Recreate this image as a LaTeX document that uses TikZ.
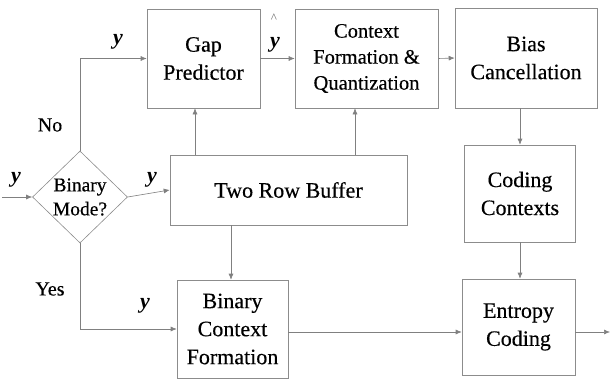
\documentclass[tikz,border=0pt]{standalone}
\usepackage{fontspec}
\setmainfont{Liberation Serif}
\newfontfamily\tnr[FakeBold=0.4]{Liberation Serif}
\usetikzlibrary{shapes.geometric,arrows.meta}
\begin{document}
\begin{tikzpicture}[x=1pt,y=-1pt,
  blk/.style={draw=black!45,line width=0.6pt,rectangle,inner sep=0pt,align=center,
     font=\tnr\fontsize{22}{28}\selectfont},
  conn/.style={draw=black!50,line width=0.6pt},
  arr/.style={conn,-{Latex[length=6pt,width=5pt]}},
  lab/.style={font=\fontsize{22}{24}\selectfont\itshape\bfseries},
  txt/.style={font=\tnr\fontsize{20}{24}\selectfont}]
\useasboundingbox (0,0) rectangle (610,380);
\node[blk,minimum width=113pt,minimum height=99pt] (gap) at (203.5,58.5) {Gap\\Predictor};
\node[blk,minimum width=143pt,minimum height=99pt,font=\tnr\fontsize{20.5}{26}\selectfont] (ctx) at (366.5,58.5) {Context\\Formation \&\\Quantization};
\node[blk,minimum width=142pt,minimum height=100pt] (bias) at (526,58) {Bias\\Cancellation};
\node[blk,minimum width=111pt,minimum height=97pt] (code) at (520,193.5) {Coding\\Contexts};
\node[blk,minimum width=113pt,minimum height=96pt] (ent) at (518.5,327) {Entropy\\Coding};
\node[blk,minimum width=237pt,minimum height=70pt] (buf) at (288.5,190) {Two Row Buffer};
\node[blk,minimum width=111pt,minimum height=98pt] (bcf) at (232.5,329) {Binary\\Context\\Formation};
\node[draw=black!45,line width=0.6pt,diamond,minimum width=95pt,minimum height=92pt,inner sep=0pt,
  align=center,font=\tnr\fontsize{19.5}{24}\selectfont] (dm) at (80,197) {Binary\\Mode?};
\coordinate (in) at (2,197);
\coordinate (out) at (610,332);
% connectors
\draw[arr] (in) -- (dm.west);
\draw[arr] (dm.north) |- (gap.west);
\draw[arr] (dm.east) -- (buf.west);
\draw[arr] (dm.south) |- (bcf.west);
\draw[arr] (gap.east) -- (ctx.west);
\draw[arr] (ctx.east) -- (bias.west);
\draw[arr] (buf.north -| 195,0) -- (gap.south -| 195,0);
\draw[arr] (buf.north -| 355,0) -- (ctx.south -| 355,0);
\draw[arr] (buf.south -| 231,0) -- (bcf.north -| 231,0);
\draw[arr] (bias.south -| code.north) -- (code.north);
\draw[arr] (code.south) -- (code.south |- ent.north);
\draw[arr] (bcf.east |- 0,332) -- (ent.west |- 0,332);
\draw[arr] (ent.east |- out) -- (out);
% labels
\node[lab] (y0) at (16,180) {y};
\node[lab] (y1) at (118,42) {y};
\node[lab] (y2) at (152,180) {y};
\node[lab] (y3) at (275,45) {y};
\node[font=\fontsize{13}{13}\selectfont,text=black!60] (hat) at (274,18) {\^{}};
\node[lab] (y4) at (145,306) {y};
\node[txt] (no) at (50,125) {No};
\node[txt] (yes) at (50,289) {Yes};
\end{tikzpicture}
\end{document}
